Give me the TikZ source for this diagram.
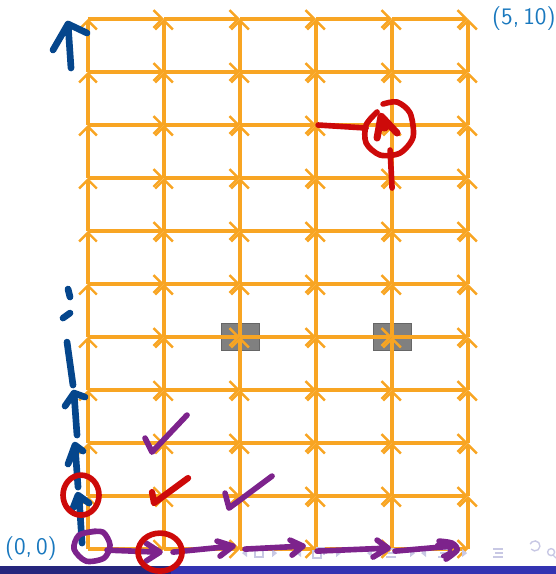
\documentclass[tikz,border=0pt]{standalone}
\usetikzlibrary{arrows.meta,positioning}
\definecolor{GridOrange}{RGB}{248,165,35}
\definecolor{InkBlue}{RGB}{5,70,140}
\definecolor{InkPurple}{RGB}{125,35,140}
\definecolor{InkRed}{RGB}{205,10,10}
\definecolor{LabelBlue}{RGB}{25,120,190}
\definecolor{BarDark}{RGB}{38,38,125}
\definecolor{BarBlue}{RGB}{51,51,178}
\definecolor{NavGrey}{RGB}{200,200,228}

\begin{document}
\begin{tikzpicture}[x=1.52cm,y=1.06cm,
        gridarr/.style={draw=GridOrange,line width=1.9pt,
                        -{Straight Barb[length=5pt,width=10pt,line width=1.4pt]}},
        block/.style={draw=black!60,fill=gray,minimum width=0.76cm,
                      minimum height=0.54cm,inner sep=0pt},
        lbl/.style={text=LabelBlue,font=\fontsize{13.5}{16}\selectfont\sffamily},
        ink/.style={line width=3.2pt,line cap=round,line join=round},
        thickink/.style={ink,line width=3.8pt},
        navsym/.style={fill=NavGrey}
      ]
        \useasboundingbox (-1.76cm,-0.5cm) rectangle (9.36cm,10.98cm);
        % footline
        \fill[BarDark] (-1.76cm,-0.5cm) rectangle (1.66cm,-0.34cm);
        \fill[BarBlue] (1.66cm,-0.5cm) rectangle (9.36cm,-0.34cm);
        % lattice points and blocked cells
        \foreach \i in {0,...,5}{
          \foreach \j in {0,...,10}{
            \coordinate (p\i-\j) at (\i,\j);
          }
        }
        \node[block] (blk1) at (p2-4) {};
        \node[block] (blk2) at (p4-4) {};
        \foreach \i [evaluate=\i as \ni using int(\i+1)] in {0,...,4}{
          \foreach \j in {0,...,10}{
            \draw[gridarr] (p\i-\j) -- (p\ni-\j);
          }
        }
        \foreach \i in {0,...,5}{
          \foreach \j [evaluate=\j as \nj using int(\j+1)] in {0,...,9}{
            \draw[gridarr] (p\i-\j) -- (p\i-\nj);
          }
        }
        \node[lbl,left=0.5cm of p0-0]  (start) {(0,\,0)};
        \node[lbl,right=0.36cm of p5-10] (goal) {(5,\,10)};
        % hand-written marks, in pixel units
        \begin{scope}[shift={(-1.76cm,10.98cm)},x=0.02cm,y=-0.02cm]
          \foreach \x in {247,301,372,426}
            \fill[navsym] (\x,549) -- (\x,557) -- (\x-5,553) -- cycle;
          \foreach \x in {272,336,410,462}
            \fill[navsym] (\x,549) -- (\x,557) -- (\x+5,553) -- cycle;
          \draw[NavGrey,line width=0.8pt] (255,549) rectangle (263,557)
            (313,551) rectangle (321,558) (316,548) -- (324,548) -- (324,555);
          \foreach \x in {386,438,493}
            \draw[NavGrey,line width=0.8pt] (\x,549) -- (\x+10,549) (\x+2,553) -- (\x+10,553)
              (\x,557) -- (\x+10,557);
          \draw[NavGrey,line width=0.8pt] (531,549) arc[start angle=140,end angle=-160,radius=5];
          \draw[NavGrey,line width=0.8pt] (551,552) circle[radius=3.5] (553,555) -- (556,558);
          % blue
          \draw[thickink,InkBlue] (71,68) -- (68,24) (53,50) -- (68,24) -- (87,33);
          \draw[thickink,InkBlue] (68,289) -- (70,297) (63,318) -- (70,313)
            (67,342) -- (73,385);
          \draw[thickink,InkBlue] (65,406) -- (74,393) -- (85,397) (74,393) -- (77,435);
          \draw[thickink,InkBlue] (68,464) -- (75,445) -- (83,451) (75,445) -- (78,487);
          \draw[thickink,InkBlue] (73,508) -- (78,495) -- (89,503) (79,496) -- (82,543);
          % purple
          \draw[ink,InkPurple] plot[smooth] coordinates
            {(96,531) (79,535) (74,549) (86,561) (104,558) (110,545) (103,532) (90,532)};
          \draw[ink,InkPurple] (107,550) -- (158,552)
            (146,543) -- (160,552) -- (146,561);
          \draw[ink,InkPurple] (173,552) -- (233,546)
            (217,541) -- (233,546) -- (220,556);
          \draw[ink,InkPurple] (245,549) -- (303,546)
            (290,540) -- (303,546) -- (292,555);
          \draw[ink,InkPurple] (317,551) -- (388,548)
            (377,540) -- (388,548) -- (373,557);
          \draw[ink,InkPurple] (395,551) -- (452,546);
          \draw[ink,InkPurple] plot[smooth] coordinates
            {(439,541) (452,543) (457,550) (446,559)};
          \draw[ink,InkPurple,line width=2.4pt] plot[smooth] coordinates
            {(437,545) (448,546) (450,552) (443,556)};
          \draw[ink,InkPurple] (145,438) -- (152,452) -- (187,415);
          \draw[ink,InkPurple] (225,493) -- (229,508) -- (272,476);
          % red
          \draw[ink,InkRed,line width=3.6pt] (152,492) -- (154,503) -- (188,478);
          \draw[ink,InkRed] (81,495) ellipse [x radius=18,y radius=20];
          \draw[ink,InkRed] (160,552) ellipse [x radius=22,y radius=19];
          \draw[ink,InkRed] (318,125) -- (366,128);
          \draw[ink,InkRed] (390,150) -- (392,188);
          \draw[ink,InkRed] plot[smooth] coordinates
            {(377,112) (366,125) (366,143) (380,155) (400,153) (413,137)
             (410,113) (397,102) (383,104)};
          \draw[ink,InkRed,line width=4pt] (377,138) -- (381,116) -- (397,133)
            (379,126) -- (385,128);
        \end{scope}
      \end{tikzpicture}
\end{document}
